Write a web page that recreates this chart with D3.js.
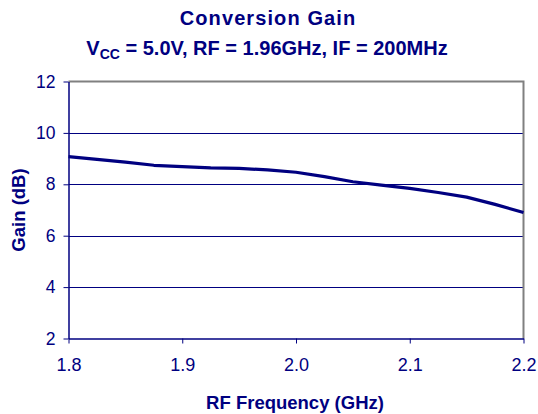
<!DOCTYPE html>
<html><head><meta charset="utf-8">
<script src="https://cdn.jsdelivr.net/npm/d3@7"></script>
<style>
html,body{margin:0;padding:0;background:#fff;}
svg{display:block;font-family:"Liberation Sans",Arial,sans-serif;}
</style></head>
<body><svg id="c" width="538" height="414"></svg>
<script>
const freq = [1.8,1.825,1.85,1.875,1.9,1.925,1.95,1.975,2.0,2.025,2.05,2.075,2.1,2.125,2.15,2.175,2.2];
const gain = [9.08,8.97,8.86,8.74,8.69,8.64,8.62,8.56,8.47,8.30,8.10,7.97,7.84,7.68,7.50,7.22,6.90];
const xTicks = [1.8,1.9,2.0,2.1,2.2];
const yTicks = [2,4,6,8,10,12];
const navy = "#000080";

const svg = d3.select("#c");
const L=68.5, R=523.5, T=81.5, B=338.5;
const x = d3.scaleLinear().domain([1.8,2.2]).range([L,R]);
const y = d3.scaleLinear().domain([2,12]).range([B,T]);

// gridlines
svg.append("g").selectAll("line").data(yTicks.filter(d=>d>2&&d<12)).join("line")
  .attr("x1",L).attr("x2",R).attr("y1",d=>Math.round(y(d))+0.5).attr("y2",d=>Math.round(y(d))+0.5)
  .attr("stroke",navy).attr("stroke-width",1);
// plot border top/right gray
svg.append("path").attr("d",`M${L},${T}H${R}V${B}`).attr("fill","none").attr("stroke","#808080").attr("stroke-width",2);

// axes
const ya = d3.axisLeft(y).tickValues(yTicks).tickSize(5).tickSizeOuter(0).tickPadding(8);
const gy = svg.append("g").attr("transform",`translate(${L},0)`).call(ya);
const xa = d3.axisBottom(x).tickValues(xTicks).tickFormat(d3.format(".1f")).tickSize(5).tickSizeOuter(0).tickPadding(15);
const gx = svg.append("g").attr("transform",`translate(0,${B})`).call(xa);
[gy,gx].forEach(g=>{
  g.select(".domain").attr("stroke",navy).attr("stroke-width",1.5);
  g.selectAll(".tick line").attr("stroke",navy);
  g.selectAll(".tick text").attr("fill",navy).style("font-size","18px").style("font-family","'Liberation Sans',Arial,sans-serif");
});
gy.selectAll(".tick text").style("font-size","17.5px");

// data line
svg.append("path").datum(freq.map((f,i)=>[f,gain[i]]))
  .attr("d",d3.line().x(d=>x(d[0])).y(d=>y(d[1])))
  .attr("fill","none").attr("stroke",navy).attr("stroke-width",3.2).attr("stroke-linejoin","round");

// titles
svg.append("text").attr("x",268).attr("y",25).attr("text-anchor","middle")
  .attr("fill",navy).style("font-size","20px").style("font-weight","bold").style("letter-spacing","1.1px").text("Conversion Gain");
const st = svg.append("text").attr("x",267).attr("y",55).attr("text-anchor","middle")
  .attr("fill",navy).style("font-size","20px").style("font-weight","bold");
st.append("tspan").text("V");
st.append("tspan").attr("dy",4).style("font-size","14px").text("CC");
st.append("tspan").attr("dy",-4).text(" = 5.0V, RF = 1.96GHz, IF = 200MHz");

svg.append("text").attr("transform","translate(25,210) rotate(-90)").attr("text-anchor","middle")
  .attr("fill",navy).style("font-size","18.5px").style("font-weight","bold").text("Gain (dB)");
svg.append("text").attr("x",295).attr("y",409).attr("text-anchor","middle")
  .attr("fill",navy).style("font-size","18.5px").style("font-weight","bold").text("RF Frequency (GHz)");
</script></body></html>
